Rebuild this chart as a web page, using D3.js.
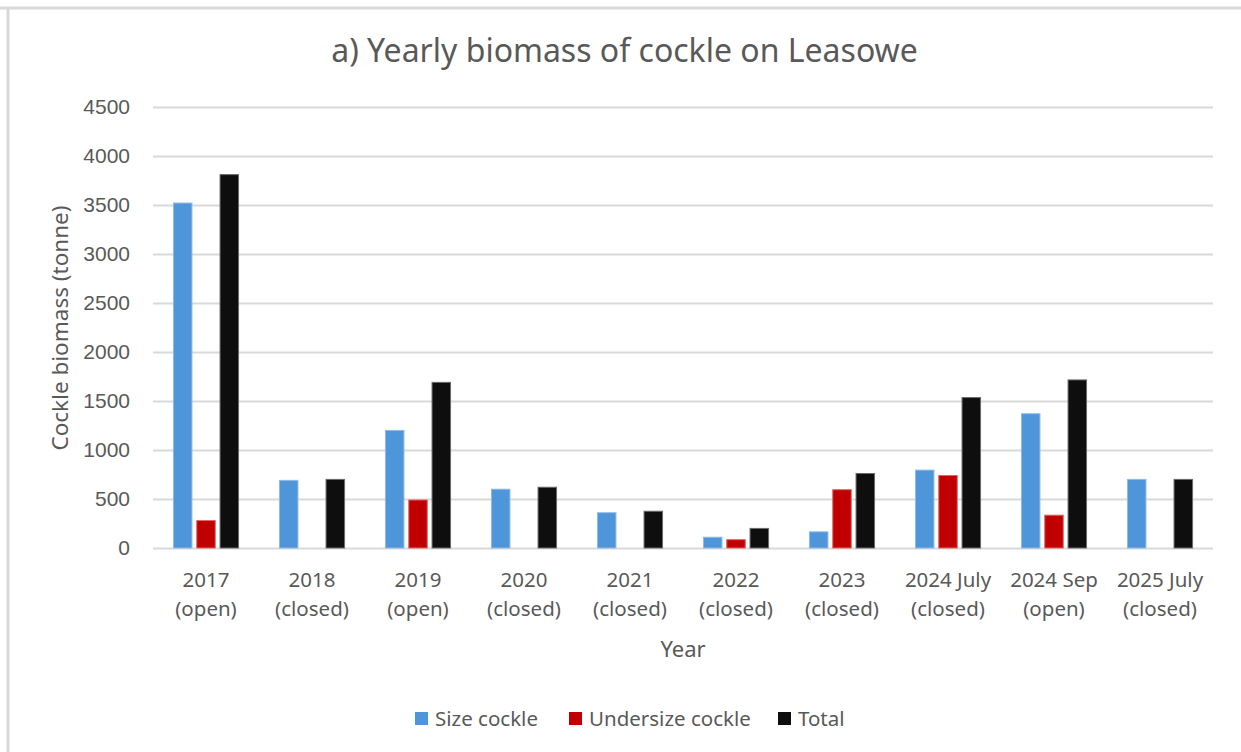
<!DOCTYPE html>
<html><head><meta charset="utf-8">
<script src="https://cdn.jsdelivr.net/npm/d3@7"></script>
<style>
html,body{margin:0;padding:0;background:#fff;}
svg{display:block;font-family:"Noto Sans","Open Sans",sans-serif;}
</style></head>
<body>
<svg id="chart" width="1241" height="752"></svg>
<script>
const categories = [["2017","(open)"],["2018","(closed)"],["2019","(open)"],["2020","(closed)"],["2021","(closed)"],["2022","(closed)"],["2023","(closed)"],["2024 July","(closed)"],["2024 Sep","(open)"],["2025 July","(closed)"]];
const seriesNames = ["Size cockle","Undersize cockle","Total"];
const sizeCockle = [3520, 690, 1200, 600, 360, 110, 165, 795, 1370, 700];
const undersizeCockle = [280, 0, 490, 0, 0, 85, 595, 740, 335, 0];
const total = [3810, 700, 1690, 620, 375, 200, 760, 1535, 1715, 700];
const yTicks = [0,500,1000,1500,2000,2500,3000,3500,4000,4500];
const colors = ["#4e95d9","#c00000","#0e0e0e"];
const strokes = ["#8fbbe8","#e06666","#6a6a6a"];

(function(){
const svg = d3.select("#chart");
const textColor = "#595959";

// frame
svg.append("line").attr("x1",0).attr("x2",1241).attr("y1",8).attr("y2",8).attr("stroke","#d9d9d9").attr("stroke-width",3);
svg.append("line").attr("x1",8).attr("x2",8).attr("y1",8).attr("y2",752).attr("stroke","#d9d9d9").attr("stroke-width",3);

const pL=153, pR=1213, pT=107, pB=548;
const x = d3.scaleBand().domain(d3.range(categories.length)).range([pL,pR]);
const y = d3.scaleLinear().domain([0,4500]).range([pB,pT]);

// gridlines
const yAxis = d3.axisLeft(y).tickValues(yTicks).tickSize(-(pR-pL)).tickPadding(23).tickFormat(d3.format("d"));
const gy = svg.append("g").attr("transform",`translate(${pL},0)`).call(yAxis);
gy.select(".domain").remove();
gy.selectAll(".tick line").attr("stroke","#d9d9d9").attr("stroke-width",2);
gy.selectAll(".tick text").attr("fill",textColor).attr("font-size",21).attr("font-family","'Liberation Sans',Arial,sans-serif");

// bars
const slot = 23.3, bw = 18.5;
const data = [sizeCockle, undersizeCockle, total];
data.forEach((vals,si)=>{
  svg.append("g").selectAll("rect").data(vals).join("rect")
    .attr("x",(d,i)=>x(i)+x.bandwidth()/2 + (si-1)*slot - bw/2)
    .attr("width",bw)
    .attr("y",d=>y(d))
    .attr("height",d=>d>0? y(0)-y(d):0)
    .attr("fill",colors[si])
    .attr("stroke",d=>d>0?strokes[si]:"none")
    .attr("stroke-width",1);
});

// x labels
const xl = svg.append("g").selectAll("text").data(categories).join("text")
  .attr("x",(d,i)=>x(i)+x.bandwidth()/2)
  .attr("text-anchor","middle").attr("fill",textColor).attr("font-size",20.5);
xl.append("tspan").attr("x",(d,i)=>x(i)+x.bandwidth()/2).attr("y",587).text(d=>d[0]);
xl.append("tspan").attr("x",(d,i)=>x(i)+x.bandwidth()/2).attr("y",616).text(d=>d[1]);

// axis titles
svg.append("text").attr("x",(pL+pR)/2).attr("y",657).attr("text-anchor","middle")
  .attr("fill",textColor).attr("font-size",22).text("Year");
svg.append("text").attr("transform","translate(68,328) rotate(-90)").attr("text-anchor","middle")
  .attr("fill",textColor).attr("font-size",22.5).text("Cockle biomass (tonne)");

// title
svg.append("text").attr("x",624.5).attr("y",62).attr("text-anchor","middle")
  .attr("fill",textColor).attr("font-size",32).text("a) Yearly biomass of cockle on Leasowe");

// legend
const legX = [415, 569, 778];
const lg = svg.append("g").selectAll("g").data(seriesNames).join("g")
  .attr("transform",(d,i)=>`translate(${legX[i]},712)`);
lg.append("rect").attr("width",13).attr("height",13).attr("fill",(d,i)=>colors[i]);
lg.append("text").attr("x",20).attr("y",14).attr("fill",textColor).attr("font-size",20.5).text(d=>d);
})();
</script>
</body></html>
